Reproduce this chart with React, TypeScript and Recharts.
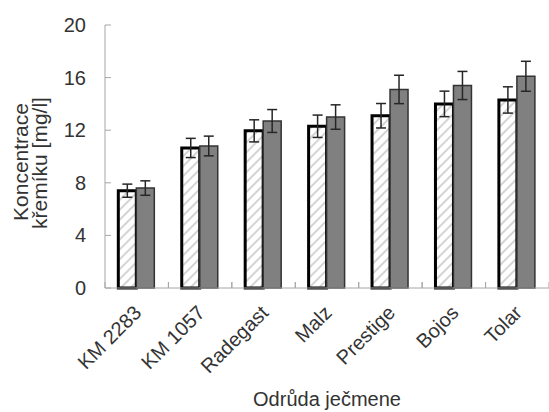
import { BarChart, Bar, XAxis, YAxis, ErrorBar, Label } from 'recharts'

const varieties = ['KM 2283', 'KM 1057', 'Radegast', 'Malz', 'Prestige', 'Bojos', 'Tolar']
const hatchedValues = [7.4, 10.65, 11.95, 12.3, 13.1, 14.0, 14.3]
const hatchedErrors = [0.5, 0.73, 0.84, 0.85, 0.93, 0.97, 1.0]
const greyValues = [7.6, 10.8, 12.7, 13.0, 15.1, 15.4, 16.1]
const greyErrors = [0.55, 0.75, 0.87, 0.93, 1.08, 1.07, 1.14]
const yTicks = [0, 4, 8, 12, 16, 20]

const data = varieties.map((name, i) => ({
  name,
  a: hatchedValues[i],
  errA: hatchedErrors[i],
  b: greyValues[i],
  errB: greyErrors[i],
}))

const W = 549
const H = 412
const LEFT = 105
const TOP = 25
const XAXIS_H = 124
const FONT = '"Liberation Sans", Arial, sans-serif'
const TEXT = '#333333'
const AXIS = '#a6a6a6'
const step = (W - LEFT) / varieties.length

const XTick = (props: any) => {
  const { x, y, payload } = props
  return (
    <g>
      <line x1={x - step / 2} y1={y} x2={x - step / 2} y2={y - 6} stroke={AXIS} />
      <line x1={x + step / 2} y1={y} x2={x + step / 2} y2={y - 6} stroke={AXIS} />
      <g transform={`translate(${x + 6},${y + 26})`}>
        <text transform="rotate(-45)" textAnchor="end" fontSize={20} fontFamily={FONT} fill={TEXT}>
          {payload.value}
        </text>
      </g>
    </g>
  )
}

const YTick = (props: any) => {
  const { x, y, payload } = props
  return (
    <g>
      <line x1={x} y1={y} x2={x + 6} y2={y} stroke={AXIS} />
      <text x={x - 19} y={y} dy={7} textAnchor="end" fontSize={20} fontFamily={FONT} fill={TEXT}>
        {payload.value}
      </text>
    </g>
  )
}

// two-line rotated y title
const YTitle = () => (
  <g fontSize={21} fontFamily={FONT} fill={TEXT} textAnchor="middle">
    <text transform="translate(28,162) rotate(-90)">Koncentrace</text>
    <text transform="translate(47,163) rotate(-90)">křemíku [mg/l]</text>
  </g>
)

const XTitle = () => (
  <text x={LEFT + (W - LEFT) / 2} y={406} textAnchor="middle" fontSize={20} fontFamily={FONT} fill={TEXT}>
    Odrůda ječmene
  </text>
)

export default function App() {
  return (
    <div style={{ position: 'absolute', left: 0, top: 0, width: W, height: H, background: '#fff' }}>
      <BarChart
        width={W}
        height={H}
        data={data}
        margin={{ top: TOP, right: 0, bottom: 0, left: 0 }}
        barGap={0}
        barCategoryGap="21%"
      >
        <defs>
          <pattern id="hatch" patternUnits="userSpaceOnUse" width="7" height="7" patternTransform="rotate(45)">
            <rect width="7" height="7" fill="#ffffff" />
            <line x1="2" y1="0" x2="2" y2="7" stroke="#d4d4d4" strokeWidth="2" />
          </pattern>
        </defs>
        <XAxis
          dataKey="name"
          height={XAXIS_H}
          interval={0}
          tickSize={0}
          tickMargin={0}
          tick={<XTick />}
          axisLine={{ stroke: AXIS }}
          tickLine={false}
        >
          <Label content={<XTitle />} />
        </XAxis>
        <YAxis
          width={LEFT}
          domain={[0, 20]}
          ticks={yTicks}
          tickSize={0}
          tickMargin={0}
          tick={<YTick />}
          axisLine={{ stroke: AXIS }}
          tickLine={false}
        >
          <Label content={<YTitle />} />
        </YAxis>
        <Bar dataKey="a" fill="url(#hatch)" stroke="#000000" strokeWidth={3} isAnimationActive={false}>
          <ErrorBar dataKey="errA" width={5} stroke="#262626" strokeWidth={1.5} isAnimationActive={false} />
        </Bar>
        <Bar dataKey="b" fill="#808080" stroke="#333333" strokeWidth={1.5} isAnimationActive={false}>
          <ErrorBar dataKey="errB" width={5} stroke="#262626" strokeWidth={1.5} isAnimationActive={false} />
        </Bar>
      </BarChart>
    </div>
  )
}
